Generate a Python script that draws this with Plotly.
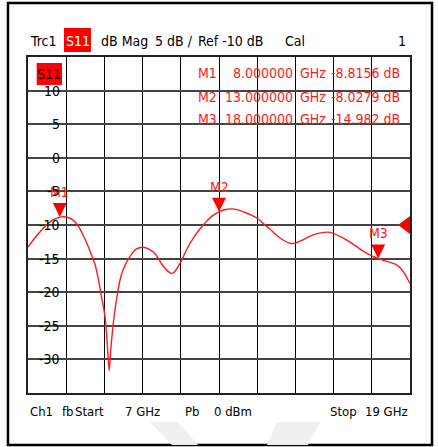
import plotly.graph_objects as go

# ---- data ----
freq_ghz = [7.0, 7.2, 7.4, 7.6, 7.8, 8.0, 8.2, 8.4, 8.6, 8.8, 9.0, 9.1, 9.2, 9.3, 9.4,
            9.45, 9.5, 9.55, 9.6, 9.65, 9.7, 9.8, 9.9, 10.0, 10.2, 10.4, 10.6, 10.8,
            11.0, 11.2, 11.4, 11.5, 11.6, 11.8, 12.0, 12.2, 12.4, 12.6, 12.8, 13.0,
            13.2, 13.4, 13.6, 13.8, 14.0, 14.2, 14.4, 14.6, 14.8, 15.0, 15.2, 15.4,
            15.6, 15.8, 16.0, 16.3, 16.5, 16.8, 17.0, 17.2, 17.5, 17.8, 18.0, 18.2,
            18.4, 18.6, 18.8, 19.0]
s11_db = [-13.3, -12.0, -10.9, -9.9, -9.2, -8.82, -8.8, -9.2, -10.3, -12.2, -14.5, -15.8,
          -17.8, -20.5, -23.0, -25.0, -28.5, -31.7, -28.5, -26.0, -23.8, -20.5, -18.0,
          -16.5, -14.7, -13.6, -13.3, -13.6, -14.3, -15.8, -16.9, -17.2, -17.0, -15.5,
          -13.5, -11.9, -10.6, -9.5, -8.6, -8.03, -7.7, -7.6, -7.75, -8.1, -8.5, -9.0,
          -9.8, -10.6, -11.5, -12.2, -12.7, -12.7, -12.3, -11.8, -11.4, -11.1, -11.1,
          -11.7, -12.2, -12.8, -13.8, -14.6, -14.98, -15.3, -15.6, -16.0, -17.0, -18.7]

marker_names = ["M1", "M2", "M3"]
marker_freq = [8.0, 13.0, 18.0]
marker_val = [-8.8156, -8.0279, -14.982]
marker_freq_txt = ["8.000000", "13.000000", "18.000000"]
marker_val_txt = ["-8.8156 dB", "-8.0279 dB", "-14.982 dB"]

y_ticks = [10, 5, 0, -5, -10, -15, -20, -25, -30]
ref_level = -10
f_start, f_stop = 7.0, 19.0
y_min, y_max = -35, 15

FONT = "Liberation Sans Narrow, Arial Narrow, DejaVu Sans Condensed, Liberation Sans, Arial, sans-serif"
RED = "#ff1a1a"
FS = 14

fig = go.Figure()
fig.add_trace(go.Scatter(x=freq_ghz, y=s11_db, mode="lines",
                         line=dict(color=RED, width=1.4, shape="spline", smoothing=0.6),
                         hoverinfo="skip", showlegend=False))

shapes = []
annotations = []

# outer frame
shapes.append(dict(type="rect", xref="paper", yref="paper", x0=-0.0524, x1=1.0576,
                   y0=-0.1548, y1=1.1607, line=dict(color="black", width=2.5), layer="below"))
# faint watermark shapes
shapes.append(dict(type="path", xref="paper", yref="paper",
                   path="M 0.3194,-0.0863 L 0.3927,-0.0863 L 0.4450,-0.1548 L 0.3770,-0.1548 Z",
                   fillcolor="#f0f0f0", line=dict(width=0), layer="below"))
shapes.append(dict(type="path", xref="paper", yref="paper",
                   path="M 0.6518,-0.0863 L 0.7644,-0.0863 L 0.7330,-0.1548 L 0.6256,-0.1548 Z",
                   fillcolor="#f0f0f0", line=dict(width=0), layer="below"))

# S11 box in header
shapes.append(dict(type="rect", xref="paper", yref="paper", x0=0.0942, x1=0.1649,
                   y0=1.0149, y1=1.0863, fillcolor="#ff0000", line=dict(width=0)))
# S11 box inside plot
shapes.append(dict(type="rect", xref="paper", yref="paper", x0=0.0227, x1=0.0890,
                   y0=0.9167, y1=0.9821, fillcolor="#ff0000", line=dict(width=0)))

# reference arrow
shapes.append(dict(type="path", xref="paper", yref="y", xsizemode="pixel", ysizemode="pixel",
                   xanchor=1, yanchor=ref_level, path="M 0 9 L 0 -9 L -12 0 Z",
                   fillcolor="#ff0000", line=dict(width=0)))

# marker triangles + labels
for name, f, v in zip(marker_names, marker_freq, marker_val):
    shapes.append(dict(type="path", xref="x", yref="y", xsizemode="pixel", ysizemode="pixel",
                       xanchor=f, yanchor=v, path="M -7 14 L 7 14 L 0 0 Z",
                       fillcolor="#ff0000", line=dict(width=0)))
    annotations.append(dict(x=f, y=v, xref="x", yref="y", text=name, showarrow=False,
                            yanchor="bottom", yshift=15,
                            font=dict(family=FONT, size=FS, color=RED)))

# y tick labels (inside)
for t in y_ticks:
    annotations.append(dict(x=0.089, y=t, xref="paper", yref="y", text=str(t), showarrow=False,
                            xanchor="right", yanchor="middle",
                            font=dict(family=FONT, size=FS, color="black")))

annotations.append(dict(x=0.0558, y=0.950, xref="paper", yref="paper", text="S11", showarrow=False,
                        xanchor="center", yanchor="middle", font=dict(family=FONT, size=FS, color="#111")))

# marker table
rows_y = [0.952, 0.882, 0.814]
for name, ft, vt, ry in zip(marker_names, marker_freq_txt, marker_val_txt, rows_y):
    annotations.append(dict(x=0.5, y=ry, xref="paper", yref="paper", text=name, showarrow=False,
                            xanchor="right", yanchor="middle", font=dict(family=FONT, size=FS, color=RED)))
    annotations.append(dict(x=0.699, y=ry, xref="paper", yref="paper", text=ft, showarrow=False,
                            xanchor="right", yanchor="middle", font=dict(family=FONT, size=FS, color=RED)))
    annotations.append(dict(x=0.707, y=ry, xref="paper", yref="paper", text="GHz", showarrow=False,
                            xanchor="left", yanchor="middle", font=dict(family=FONT, size=FS, color=RED)))
    annotations.append(dict(x=0.979, y=ry, xref="paper", yref="paper", text=vt, showarrow=False,
                            xanchor="right", yanchor="middle", font=dict(family=FONT, size=FS, color=RED)))

# header
hy = 1.0476
header = [("Trc1", 0.0, "left", "black"), ("S11", 0.1296, "center", "white"),
          ("dB Mag", 0.1859, "left", "black"), ("5 dB /", 0.327, "left", "black"),
          ("Ref -10 dB", 0.4398, "left", "black"), ("Cal", 0.6675, "left", "black"),
          ("1", 0.9948, "right", "black")]
for txt, x, xa, c in header:
    annotations.append(dict(x=x, y=hy, xref="paper", yref="paper", text=txt, showarrow=False,
                            xanchor=xa, yanchor="middle", font=dict(family=FONT, size=FS, color=c)))

# footer
fy = -0.0536
footer = [("Ch1", 0.0), ("fb", 0.083), ("Start", 0.1170), ("7 GHz", 0.2487),
          ("Pb", 0.405), ("0 dBm", 0.481), ("Stop", 0.7853), ("19 GHz", 0.8770)]
for txt, x in footer:
    annotations.append(dict(x=x, y=fy, xref="paper", yref="paper", text=txt, showarrow=False,
                            xanchor="left", yanchor="middle", font=dict(family=FONT, size=13, color="black")))

fig.update_layout(
    width=438, height=447,
    margin=dict(l=28, r=28, t=57, b=54),
    paper_bgcolor="white", plot_bgcolor="white",
    shapes=shapes, annotations=annotations,
    showlegend=False,
    xaxis=dict(range=[f_start, f_stop], tick0=f_start, dtick=(f_stop - f_start) / 10,
               showticklabels=False, ticks="", showgrid=True, gridcolor="black", gridwidth=1,
               zeroline=False, showline=True, linecolor="#222", linewidth=2, mirror=True,
               fixedrange=True),
    yaxis=dict(range=[y_min, y_max], tick0=0, dtick=5,
               showticklabels=False, ticks="", showgrid=True, gridcolor="#444", gridwidth=2,
               zeroline=False, showline=True, linecolor="#222", linewidth=2, mirror=True,
               fixedrange=True),
)

fig.write_html("out.html", config={"displayModeBar": False},
               post_script="document.body.style.margin='0';document.body.style.overflow='hidden';")
